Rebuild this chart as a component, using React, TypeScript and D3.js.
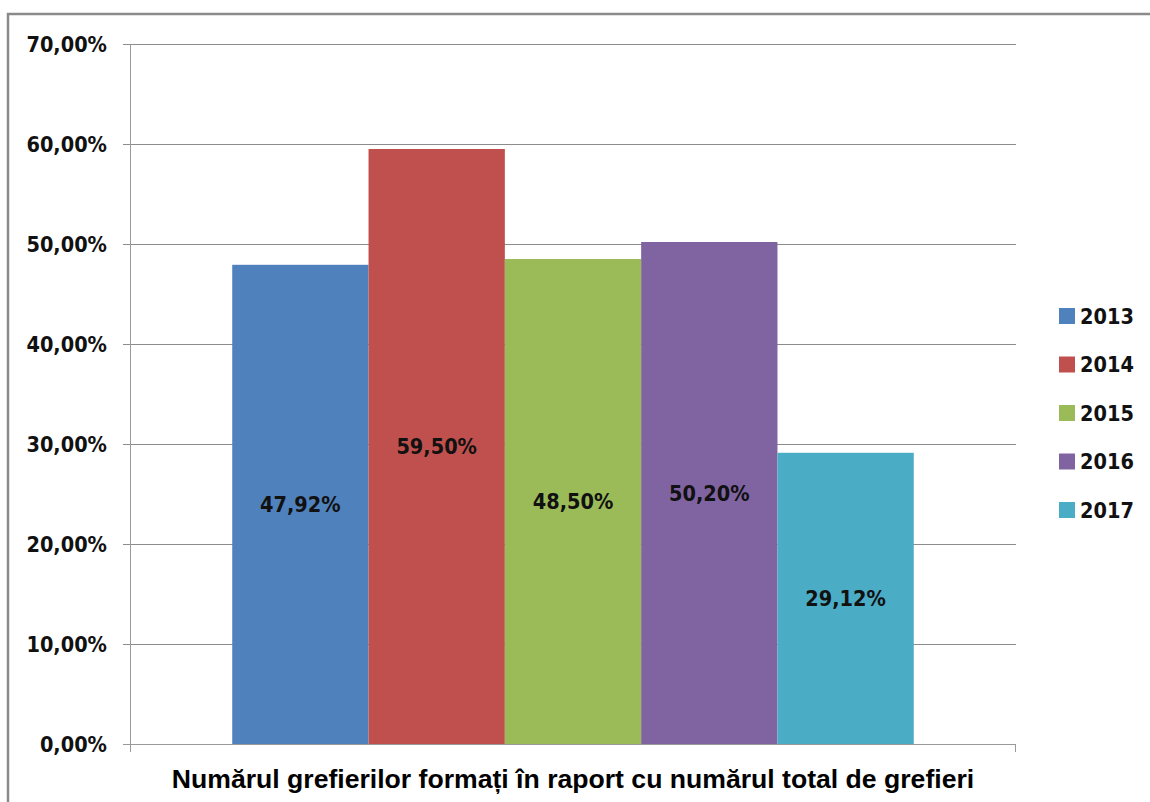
import React from "react";
import * as d3 from "d3";

const years = ["2013", "2014", "2015", "2016", "2017"];
const values = [47.92, 59.5, 48.5, 50.2, 29.12];
const colors = ["#4f81bd", "#c0504d", "#9bbb59", "#8064a2", "#4bacc6"];
const yTicks = [0, 10, 20, 30, 40, 50, 60, 70];
const axisTitle = "Numărul grefierilor formați în raport cu numărul total de grefieri";

const W = 1150;
const H = 802;
const plot = { left: 130, right: 1016, top: 44, bottom: 744 };
const labelFont = "'DejaVu Sans Condensed', 'DejaVu Sans', sans-serif";
const labelSize = 21.5;

const fmt = (v: number) => v.toFixed(2).replace(".", ",") + "%";

export default function App() {
  const x = d3
    .scaleBand<string>()
    .domain(years)
    .range([plot.left, plot.right])
    .paddingInner(0)
    .paddingOuter(0.75);
  const y = d3.scaleLinear().domain([0, 70]).range([plot.bottom, plot.top]);

  return (
    <svg
      width={W}
      height={H}
      style={{ position: "absolute", left: 0, top: 0, background: "#fff" }}
    >
      {/* chart frame */}
      <rect x={8} y={14} width={W + 20} height={H + 20} fill="#fff" stroke="#8a8a8a" strokeWidth={2.5} />

      {/* gridlines and ticks */}
      {yTicks.map((t) => (
        <g key={t}>
          <line
            x1={plot.left - 7}
            x2={plot.right}
            y1={Math.round(y(t)) + 0.5}
            y2={Math.round(y(t)) + 0.5}
            stroke={t === 0 ? "#9a9a9a" : "#8c8c8c"}
            strokeWidth={1}
          />
          <text
            x={107}
            y={y(t)}
            dy="0.36em"
            textAnchor="end"
            fontFamily={labelFont}
            fontWeight="bold"
            fontSize={labelSize}
            fill="#111"
          >
            {fmt(t)}
          </text>
        </g>
      ))}

      {/* vertical axis and right edge tick */}
      <line x1={plot.left + 0.5} x2={plot.left + 0.5} y1={plot.top} y2={plot.bottom + 8} stroke="#9a9a9a" />
      <line x1={plot.right - 0.5} x2={plot.right - 0.5} y1={plot.bottom} y2={plot.bottom + 8} stroke="#9a9a9a" />

      {/* bars */}
      {years.map((yr, i) => (
        <rect
          key={yr}
          x={x(yr)}
          y={y(values[i])}
          width={x.bandwidth()}
          height={plot.bottom - y(values[i])}
          fill={colors[i]}
        />
      ))}

      {/* value labels */}
      {years.map((yr, i) => (
        <text
          key={"l" + yr}
          x={(x(yr) as number) + x.bandwidth() / 2}
          y={(y(values[i]) + plot.bottom) / 2}
          dy="0.36em"
          textAnchor="middle"
          fontFamily={labelFont}
          fontWeight="bold"
          fontSize={labelSize}
          fill="#111"
        >
          {fmt(values[i])}
        </text>
      ))}

      {/* category axis title */}
      <text
        x={(plot.left + plot.right) / 2}
        y={788}
        textAnchor="middle"
        fontFamily="'Liberation Sans', Arial, sans-serif"
        fontWeight="bold"
        fontSize={26.6}
        fill="#000"
      >
        {axisTitle}
      </text>

      {/* legend */}
      {years.map((yr, i) => {
        const cy = 316 + i * 48.5;
        return (
          <g key={"g" + yr}>
            <rect x={1059} y={cy - 8} width={16} height={16} fill={colors[i]} />
            <text
              x={1080}
              y={cy}
              dy="0.36em"
              fontFamily={labelFont}
              fontWeight="bold"
              fontSize={labelSize}
              fill="#111"
            >
              {yr}
            </text>
          </g>
        );
      })}
    </svg>
  );
}
